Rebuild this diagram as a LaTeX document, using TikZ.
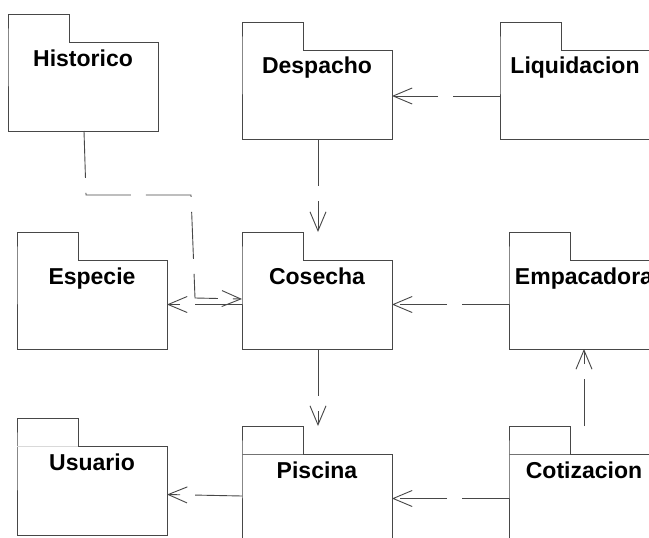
\documentclass[tikz,border=0pt]{standalone}
\usepackage{fontspec}
\setmainfont{Liberation Sans}
\usetikzlibrary{arrows.meta,calc}

\definecolor{linec}{gray}{0.28}

\tikzset{
  pkgbody/.style={minimum width=150pt, minimum height=89pt,
    inner sep=0pt, outer sep=0pt},
  pkgline/.style={draw=linec, line width=0.9pt, line join=miter},
  pkglabel/.style={font=\bfseries\fontsize{23}{27}\selectfont, inner sep=0pt, anchor=base},
  dep/.style={draw=linec, line width=0.9pt, dash pattern=on 47pt off 15pt,
    -{Straight Barb[length=19pt,width=16pt,line width=0.9pt]}},
}

% package: name, body top-left x, y, title
\newcommand{\umlpkg}[4]{%
  \node[pkgbody, anchor=north west] (#1) at (#2,#3) {};
  \draw[pkgline] ([xshift=61pt]#1.north west) -- (#1.north east) -- (#1.south east)
     -- (#1.south west) -- (#1.north west) -- ++(0,-28) -- ++(61,0) -- ++(0,28);
  \coordinate (#1-tab) at ([yshift=28pt]#1.north west);
  \node[pkglabel] (#1-t) at ([yshift=-24pt]#1.north) {#4};
}

\begin{document}
\begin{tikzpicture}[x=1pt,y=-1pt]
  \useasboundingbox (0,0) rectangle (649,538);
  \fill[white] (0,0) rectangle (649,538);
  \clip (0,0) rectangle (649,538);

  \umlpkg{hist}{8}{42}{Historico}
  \umlpkg{desp}{242}{50}{Despacho}
  \umlpkg{liq}{500}{50}{Liquidacion}
  \umlpkg{esp}{17}{260}{Especie}
  \umlpkg{cos}{242}{260}{Cosecha}
  \umlpkg{emp}{509}{260}{Empacadora}
  \umlpkg{usu}{17}{446}{Usuario}
  \umlpkg{pis}{242}{454}{Piscina}
  \umlpkg{cot}{509}{454}{Cotizacion}

  % faint rules under some of the tabs
  \draw[black!15, line width=0.6pt] (usu.north west) -- ++(61,0);
  \draw[black!55, line width=0.6pt] (pis.north west) -- ++(61,0);
  \draw[black!55, line width=0.6pt] (cot.north west) -- ++(61,0);

  % dependencies
  \draw[dep] ([yshift=-1.5pt]liq.west) -- ([yshift=-1.5pt]desp.east);
  \draw[dep] ([xshift=1pt]desp.south) -- ([xshift=1pt]desp.south |- cos-tab);
  \draw[dep] (cos.west) -- (esp.east);
  \draw[dep] (emp.west) -- (cos.east);
  \draw[dep] ([xshift=1pt]hist.south) -- ++(2,64) -- ++(105,0) -- ++(4,103)
             -- ([yshift=5.5pt]cos.west);
  \draw[dep] ([xshift=1pt]cos.south) -- ([xshift=1pt]cos.south |- pis-tab);
  \draw[dep] (cot.north |- cot-tab) -- (emp.south);
  \draw[dep] ([yshift=2.5pt]pis.west) -- ([yshift=-4pt]usu.east);
  \draw[dep] (cot.west) -- (pis.east);
\end{tikzpicture}
\end{document}
